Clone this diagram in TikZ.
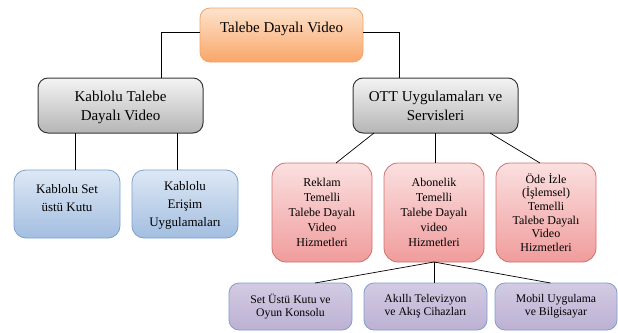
\documentclass[tikz,border=0pt]{standalone}
\usepackage{fontspec}
\setmainfont{Liberation Serif}
\usetikzlibrary{positioning}

\definecolor{orangeline}{HTML}{F4A46A}
\definecolor{orangetop}{HTML}{FDE3CD}
\definecolor{orangebot}{HTML}{F9A669}
\definecolor{grayline}{HTML}{383838}
\definecolor{graytop}{HTML}{F4F4F4}
\definecolor{graybot}{HTML}{B5B5B5}
\definecolor{blueline}{HTML}{7EA0CE}
\definecolor{bluetop}{HTML}{DDE8F5}
\definecolor{bluebot}{HTML}{A3BEE0}
\definecolor{redline}{HTML}{D0706E}
\definecolor{redtop}{HTML}{FBE0E0}
\definecolor{redbot}{HTML}{F09C9C}
\definecolor{purpleline}{HTML}{7F9DCF}
\definecolor{purpletop}{HTML}{D2CBE2}
\definecolor{purplebot}{HTML}{BDB1D4}

\begin{document}
\begin{tikzpicture}[x=1pt, y=-1pt, line width=0.7pt,
    box/.style={rounded corners=10pt, align=center, inner sep=2pt, outer sep=0pt, line width=0.8pt},
    top node/.style={box, draw=orangeline, top color=orangetop, bottom color=orangebot,
      minimum width=163pt, minimum height=54pt, font=\fontsize{15}{19}\selectfont,
      text height=10pt, text depth=16pt},
    gray node/.style={box, draw=grayline, line width=1pt, top color=graytop, bottom color=graybot,
      minimum width=165pt, minimum height=55pt, font=\fontsize{15}{19}\selectfont,
      text depth=0pt},
    blue node/.style={box, rounded corners=12pt, draw=blueline, top color=bluetop, bottom color=bluebot,
      minimum width=106pt, minimum height=68pt, font=\fontsize{13}{18}\selectfont,
      text depth=0pt},
    red node/.style={box, rounded corners=14pt, draw=redline, top color=redtop, bottom color=redbot,
      minimum width=100pt, minimum height=99pt, font=\fontsize{12}{15}\selectfont},
    purple node/.style={box, draw=purpleline, top color=purpletop, bottom color=purplebot,
      minimum width=123pt, minimum height=47pt, font=\fontsize{11.7}{13}\selectfont}]

  \useasboundingbox (0,0) rectangle (618,332);

  \node[top node] (1) at (281.5,35) {Talebe Dayalı Video};
  \node[gray node] (2) at (120.5,105.5) {Kablolu Talebe\\Dayalı Video};
  \node[gray node] (3) [right=150pt of 2] {OTT Uygulamaları ve\\Servisleri};

  \node[blue node, text depth=13pt] (4) at (67,204) {Kablolu Set\\üstü Kutu};
  \node[blue node] (5) [right=12pt of 4] {Kablolu\\Erişim\\Uygulamaları};

  \node[red node] (6) at (322,212.5) {Reklam\\Temelli\\Talebe Dayalı\\Video\\Hizmetleri};
  \node[red node] (7) [right=12pt of 6] {Abonelik\\Temelli\\Talebe Dayalı\\video\\Hizmetleri};
  \node[red node, font=\fontsize{12}{13.6}\selectfont] (8) [right=12pt of 7]
    {Öde İzle\\(İşlemsel)\\Temelli\\Talebe Dayalı\\Video\\Hizmetleri};

  \node[purple node] (9) at (290.5,306.5) {Set Üstü Kutu ve\\Oyun Konsolu};
  \node[purple node] (10) [right=12pt of 9] {Akıllı Televizyon\\ve Akış Cihazları};
  \node[purple node, minimum width=122pt] (11) [right=8pt of 10] {Mobil Uygulama\\ve Bilgisayar};

  \draw ([yshift=3pt]1.west) -| ([xshift=40.5pt]2.north);
  \draw ([yshift=3pt]1.east) -| ([xshift=-36.5pt]3.north);

  \draw ([xshift=-45.5pt]2.south) -- ([xshift=8pt]4.north);
  \draw ([xshift=56.5pt]2.south) -- ([xshift=-8pt]5.north);

  \draw ([xshift=-61.5pt]3.south) -- ([xshift=14pt]6.north);
  \draw (3.south) -- (3.south |- 7.north);
  \draw ([xshift=54.5pt]3.south) -- ([xshift=-6pt]8.north);

  \draw (7.south) -- ([xshift=24.5pt]9.north);
  \draw (7.south) -- (7.south |- 10.north);
  \draw (7.south) -- ([xshift=-5.5pt]11.north);

\end{tikzpicture}
\end{document}
